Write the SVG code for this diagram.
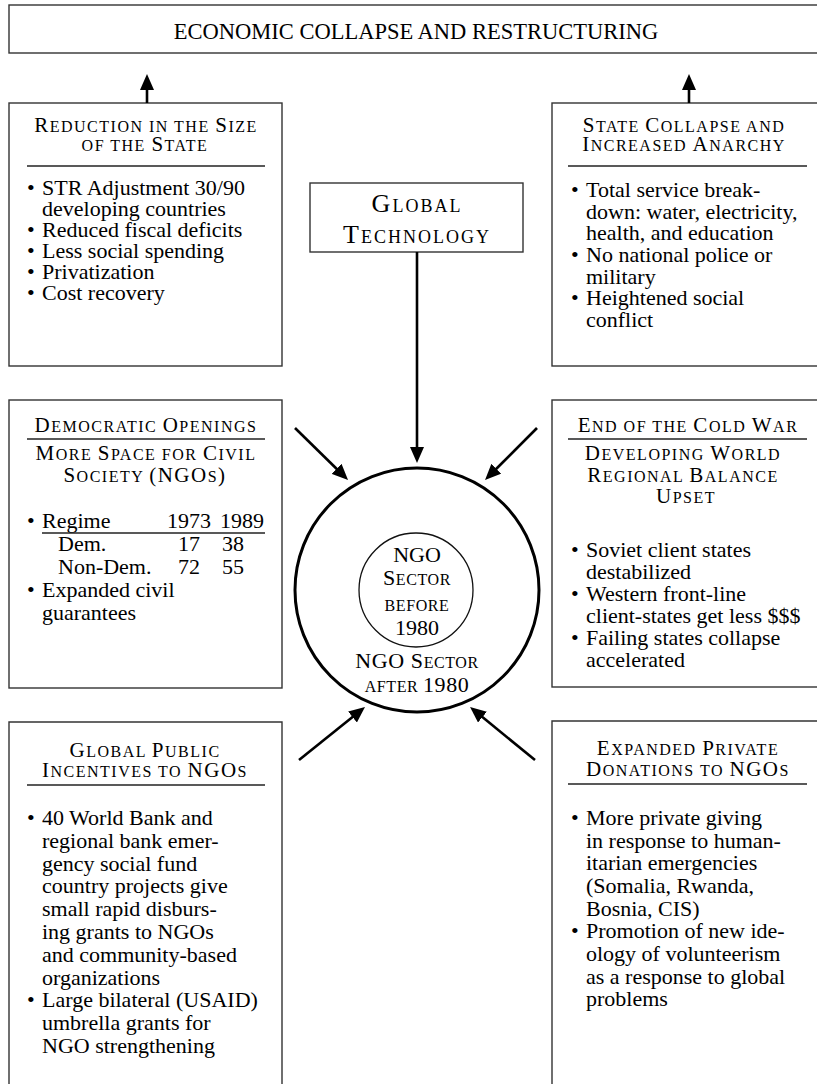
<svg xmlns="http://www.w3.org/2000/svg" width="817" height="1084" viewBox="0 0 817 1084">
<defs>
<style>
text{font-family:"Liberation Serif","Times New Roman",serif;fill:#000;}
.box{fill:none;stroke:#333;stroke-width:1.4;}
.rule{stroke:#222;stroke-width:1.6;}
.b{font-size:22px;}
.h{font-size:16px;letter-spacing:1.5px;}
.H{font-size:21px;}
.ban{font-size:22.5px;}
.gt{font-size:18px;letter-spacing:2px;}
.G{font-size:26px;}
.c{font-size:16px;letter-spacing:0.6px;}
.C{font-size:22px;}
.conn line{stroke:#000;stroke-width:2.6;fill:none;marker-end:url(#ah);}
</style>
<marker id="ah" markerUnits="userSpaceOnUse" markerWidth="16" markerHeight="14" refX="6" refY="7" orient="auto"><path d="M0,0 L16,7 L0,14 Z" fill="#000"/></marker>
</defs>
<rect width="817" height="1084" fill="#fff"/>

<g id="banner">
<rect class="box" x="9" y="5" width="815" height="48"/>
<text class="ban" x="416" y="39" text-anchor="middle">ECONOMIC COLLAPSE AND RESTRUCTURING</text>
</g>

<g id="reduction">
<rect class="box" x="9" y="103" width="273" height="263"/>
<text class="h" x="146" y="132" text-anchor="middle"><tspan class="H">R</tspan>EDUCTION IN THE <tspan class="H">S</tspan>IZE</text>
<text class="h" x="145" y="151" text-anchor="middle">OF THE <tspan class="H">S</tspan>TATE</text>
<line class="rule" x1="27" y1="166" x2="265" y2="166"/>
<text class="b" x="27" y="195">•<tspan x="42">STR Adjustment 30/90</tspan></text>
<text class="b" x="42" y="216">developing countries</text>
<text class="b" x="27" y="237">•<tspan x="42">Reduced fiscal deficits</tspan></text>
<text class="b" x="27" y="258">•<tspan x="42">Less social spending</tspan></text>
<text class="b" x="27" y="279">•<tspan x="42">Privatization</tspan></text>
<text class="b" x="27" y="300">•<tspan x="42">Cost recovery</tspan></text>
</g>

<g id="state-collapse">
<rect class="box" x="552" y="103" width="270" height="263"/>
<text class="h" x="684" y="132" text-anchor="middle"><tspan class="H">S</tspan>TATE <tspan class="H">C</tspan>OLLAPSE AND</text>
<text class="h" x="684" y="151" text-anchor="middle"><tspan class="H">I</tspan>NCREASED <tspan class="H">A</tspan>NARCHY</text>
<line class="rule" x1="568" y1="166" x2="807" y2="166"/>
<text class="b" x="571" y="197">•<tspan x="586">Total service break-</tspan></text>
<text class="b" x="586" y="219">down: water, electricity,</text>
<text class="b" x="586" y="240">health, and education</text>
<text class="b" x="571" y="262">•<tspan x="586">No national police or</tspan></text>
<text class="b" x="586" y="284">military</text>
<text class="b" x="571" y="305">•<tspan x="586">Heightened social</tspan></text>
<text class="b" x="586" y="327">conflict</text>
</g>

<g id="global-technology">
<rect class="box" x="310" y="183" width="213" height="69"/>
<text class="gt" x="417" y="212" text-anchor="middle"><tspan class="G">G</tspan>LOBAL</text>
<text class="gt" x="417" y="243" text-anchor="middle"><tspan class="G">T</tspan>ECHNOLOGY</text>
</g>

<g id="democratic">
<rect class="box" x="9" y="400" width="273" height="288"/>
<text class="h" x="146" y="432" text-anchor="middle"><tspan class="H">D</tspan>EMOCRATIC <tspan class="H">O</tspan>PENINGS</text>
<line class="rule" x1="27" y1="439" x2="265" y2="439"/>
<text class="h" x="146" y="460" text-anchor="middle"><tspan class="H">M</tspan>ORE <tspan class="H">S</tspan>PACE FOR <tspan class="H">C</tspan>IVIL</text>
<text class="h" x="145" y="482" text-anchor="middle"><tspan class="H">S</tspan>OCIETY <tspan class="H">(NGO</tspan>S<tspan class="H">)</tspan></text>
<text class="b" x="27" y="528">•<tspan x="42">Regime</tspan><tspan x="167">1973</tspan><tspan x="220">1989</tspan></text>
<line stroke="#222" stroke-width="1.3" x1="42" y1="533" x2="265" y2="533"/>
<text class="b" x="58" y="551">Dem.<tspan x="178">17</tspan><tspan x="222">38</tspan></text>
<text class="b" x="58" y="574">Non-Dem.<tspan x="178">72</tspan><tspan x="222">55</tspan></text>
<text class="b" x="27" y="597">•<tspan x="42">Expanded civil</tspan></text>
<text class="b" x="42" y="620">guarantees</text>
</g>

<g id="cold-war">
<rect class="box" x="552" y="400" width="270" height="287"/>
<text class="h" x="688" y="432" text-anchor="middle"><tspan class="H">E</tspan>ND OF THE <tspan class="H">C</tspan>OLD <tspan class="H">W</tspan>AR</text>
<line class="rule" x1="568" y1="439" x2="807" y2="439"/>
<text class="h" x="683" y="460" text-anchor="middle"><tspan class="H">D</tspan>EVELOPING <tspan class="H">W</tspan>ORLD</text>
<text class="h" x="683" y="482" text-anchor="middle"><tspan class="H">R</tspan>EGIONAL <tspan class="H">B</tspan>ALANCE</text>
<text class="h" x="686" y="503" text-anchor="middle"><tspan class="H">U</tspan>PSET</text>
<text class="b" x="571" y="557">•<tspan x="586">Soviet client states</tspan></text>
<text class="b" x="586" y="579">destabilized</text>
<text class="b" x="571" y="601">•<tspan x="586">Western front-line</tspan></text>
<text class="b" x="586" y="623">client-states get less $$$</text>
<text class="b" x="571" y="645">•<tspan x="586">Failing states collapse</tspan></text>
<text class="b" x="586" y="667">accelerated</text>
</g>

<g id="ngo-after-1980">
<circle cx="417" cy="590" r="122" fill="none" stroke="#000" stroke-width="3"/>
<text class="c" x="417" y="668" text-anchor="middle"><tspan class="C">NGO S</tspan>ECTOR</text>
<text class="c" x="417" y="692" text-anchor="middle">AFTER <tspan class="C">1980</tspan></text>
</g>

<g id="ngo-before-1980">
<circle cx="416" cy="590" r="57" fill="none" stroke="#111" stroke-width="1.3"/>
<text class="C" x="417" y="562" text-anchor="middle">NGO</text>
<text class="c" x="417" y="585" text-anchor="middle"><tspan class="C">S</tspan>ECTOR</text>
<text class="c" x="417" y="611" text-anchor="middle">BEFORE</text>
<text class="C" x="417" y="635" text-anchor="middle">1980</text>
</g>

<g id="public-incentives">
<path class="box" d="M9,1090 V722 H282 V1090"/>
<text class="h" x="145" y="757" text-anchor="middle"><tspan class="H">G</tspan>LOBAL <tspan class="H">P</tspan>UBLIC</text>
<text class="h" x="145" y="777" text-anchor="middle"><tspan class="H">I</tspan>NCENTIVES TO <tspan class="H">NGO</tspan>S</text>
<line class="rule" x1="27" y1="785" x2="265" y2="785"/>
<text class="b" x="27" y="825">•<tspan x="42">40 World Bank and</tspan></text>
<text class="b" x="42" y="848">regional bank emer-</text>
<text class="b" x="42" y="871">gency social fund</text>
<text class="b" x="42" y="893">country projects give</text>
<text class="b" x="42" y="916">small rapid disburs-</text>
<text class="b" x="42" y="939">ing grants to NGOs</text>
<text class="b" x="42" y="962">and community-based</text>
<text class="b" x="42" y="985">organizations</text>
<text class="b" x="27" y="1007">•<tspan x="42">Large bilateral (USAID)</tspan></text>
<text class="b" x="42" y="1030">umbrella grants for</text>
<text class="b" x="42" y="1053">NGO strengthening</text>
</g>

<g id="private-donations">
<path class="box" d="M552,1090 V721 H822"/>
<text class="h" x="688" y="755" text-anchor="middle"><tspan class="H">E</tspan>XPANDED <tspan class="H">P</tspan>RIVATE</text>
<text class="h" x="688" y="776" text-anchor="middle"><tspan class="H">D</tspan>ONATIONS TO <tspan class="H">NGO</tspan>S</text>
<line class="rule" x1="568" y1="784" x2="807" y2="784"/>
<text class="b" x="571" y="825">•<tspan x="586">More private giving</tspan></text>
<text class="b" x="586" y="848">in response to human-</text>
<text class="b" x="586" y="870">itarian emergencies</text>
<text class="b" x="586" y="893">(Somalia, Rwanda,</text>
<text class="b" x="586" y="916">Bosnia, CIS)</text>
<text class="b" x="571" y="938">•<tspan x="586">Promotion of new ide-</tspan></text>
<text class="b" x="586" y="961">ology of volunteerism</text>
<text class="b" x="586" y="984">as a response to global</text>
<text class="b" x="586" y="1006">problems</text>
</g>

<g id="connectors" class="conn">
<line x1="147" y1="103" x2="147" y2="84"/>
<line x1="689" y1="103" x2="689" y2="84"/>
<line x1="417" y1="252" x2="417" y2="453"/>
<line x1="295" y1="428" x2="340.9" y2="473"/>
<line x1="537" y1="428" x2="492.1" y2="473"/>
<line x1="299" y1="760" x2="357.2" y2="713.3"/>
<line x1="535" y1="760" x2="477.8" y2="713.3"/>
</g>
</svg>
